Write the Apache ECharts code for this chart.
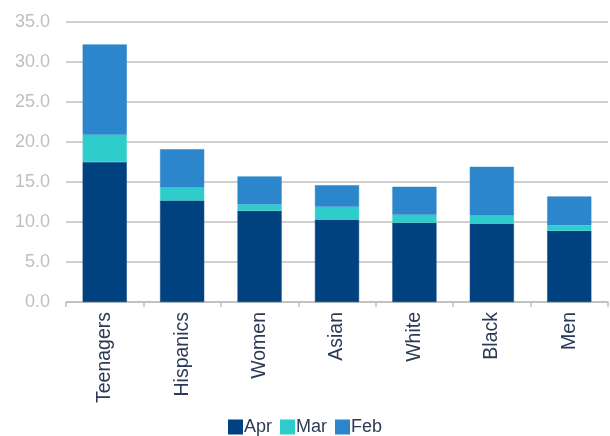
<!DOCTYPE html>
<html>
<head>
<meta charset="utf-8">
<script src="https://cdn.jsdelivr.net/npm/echarts@6/dist/echarts.min.js"></script>
<style>html,body{margin:0;padding:0;background:#fff;}#c{width:610px;height:436px;}</style>
</head>
<body>
<div id="c"></div>
<script>
const categories = ['Teenagers','Hispanics','Women','Asian','White','Black','Men'];
const aprValues = [17.5, 12.7, 11.4, 10.3, 9.9, 9.8, 8.9];
const marValues = [3.4, 1.6, 0.8, 1.6, 1.0, 1.0, 0.7];
const febValues = [11.3, 4.8, 3.5, 2.7, 3.5, 6.1, 3.6];
const yTicks = {min: 0, max: 35, interval: 5};

const chart = echarts.init(document.getElementById('c'));
const mk = (name, data, color) => ({
  name, type: 'bar', stack: 'total', data, barWidth: '57%',
  itemStyle: {color, borderColor: color, borderWidth: 0.5},
  emphasis: {disabled: true}
});
chart.setOption({
  animation: false,
  textStyle: {fontFamily: 'Liberation Sans, Arial, sans-serif'},
  grid: {left: 66, right: 2, top: 22, bottom: 134},
  legend: {
    top: 418, left: 'center', padding: 0, itemWidth: 13, itemHeight: 13, itemGap: 8,
    icon: 'rect',
    textStyle: {fontSize: 18, color: '#2B3A55', padding: [0, 0, 0, -3]},
    data: ['Apr', 'Mar', 'Feb']
  },
  xAxis: {
    type: 'category', data: categories,
    axisLine: {lineStyle: {color: '#BFBFBF', width: 1.5}},
    axisTick: {show: true, length: 5, lineStyle: {color: '#BFBFBF', width: 1.5}},
    axisLabel: {rotate: 90, fontSize: 19.5, color: '#2B3A55', margin: 10, interval: 0}
  },
  yAxis: {
    type: 'value', min: yTicks.min, max: yTicks.max, interval: yTicks.interval,
    axisLine: {show: false}, axisTick: {show: false},
    splitLine: {lineStyle: {color: '#BFBFBF', width: 1.5}},
    axisLabel: {fontSize: 18, color: '#BFBFBF', margin: 16, formatter: v => v.toFixed(1)}
  },
  series: [
    mk('Apr', aprValues, '#00427F'),
    mk('Mar', marValues, '#2ECDCB'),
    mk('Feb', febValues, '#2B86CB')
  ]
});
</script>
</body>
</html>
